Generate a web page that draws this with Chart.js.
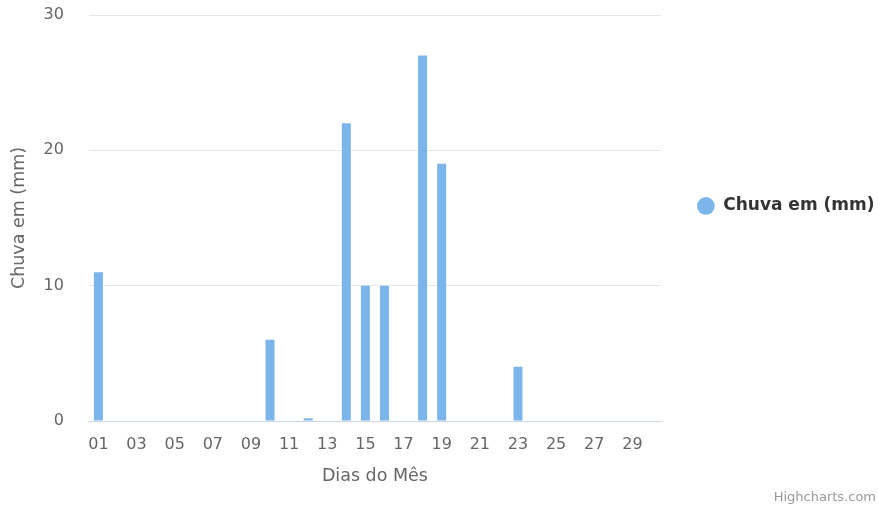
<!DOCTYPE html>
<html>
<head>
<meta charset="utf-8">
<script src="https://cdn.jsdelivr.net/npm/chart.js@4"></script>
<style>
  html, body { margin: 0; padding: 0; background: #fff; }
  #wrap { width: 878px; height: 512px; position: relative; }
</style>
</head>
<body>
<div id="wrap"><canvas id="chuva"></canvas></div>
<script>
// Chuva diária do mês (mm)
const dias = ['01','02','03','04','05','06','07','08','09','10','11','12','13','14','15',
              '16','17','18','19','20','21','22','23','24','25','26','27','28','29','30'];
const chuvaMm = [11, 0, 0, 0, 0, 0, 0, 0, 0, 6, 0, 0.2, 0, 22, 10,
                 10, 0, 27, 19, 0, 0, 0, 4, 0, 0, 0, 0, 0, 0, 0];
const yTicks = [0, 10, 20, 30];

const FONT = '"DejaVu Sans", Verdana, sans-serif';
const NONE = 'rgba(0,0,0,0)';

// rodapé "Highcharts.com"
const credits = {
  id: 'credits',
  afterDraw(chart) {
    const c = chart.ctx;
    c.save();
    c.font = '13px ' + FONT;
    c.fillStyle = '#999999';
    c.textAlign = 'right';
    c.textBaseline = 'middle';
    c.fillText('Highcharts.com', 876, 498);
    c.restore();
  }
};

new Chart(document.getElementById('chuva'), {
  type: 'bar',
  data: {
    labels: dias,
    datasets: [{
      label: 'Chuva em (mm)',
      data: chuvaMm,
      backgroundColor: '#7cb5ec',
      borderWidth: 0,
      inflateAmount: 0,
      barThickness: 9,
    }],
  },
  options: {
    responsive: true,
    maintainAspectRatio: false,
    animation: false,
    layout: { padding: { top: 15, right: 0, bottom: 25.5, left: 8.5 } },
    plugins: {
      legend: {
        position: 'right',
        align: 'start',
        maxWidth: 217,
        // título vazio só para descer o item da legenda
        title: { display: true, text: '', padding: 66 },
        labels: {
          usePointStyle: true,
          pointStyle: 'circle',
          pointStyleWidth: 17.7,
          boxHeight: 12.5,
          padding: 36,
          color: '#333333',
          font: { family: FONT, size: 17, weight: 'bold' },
        },
      },
      tooltip: { enabled: false },
    },
    scales: {
      x: {
        // marcas invisíveis só para afastar os rótulos do eixo
        grid: { drawOnChartArea: false, drawTicks: true, tickLength: 10, tickColor: NONE },
        border: { display: true, color: '#ccd6eb', width: 1 },
        ticks: {
          autoSkip: false,
          maxRotation: 0,
          padding: 4,
          color: '#666666',
          font: { family: FONT, size: 16 },
          callback: (v, i) => (i % 2 === 0 ? dias[i] : ''),
        },
        title: {
          display: true,
          text: 'Dias do Mês',
          color: '#666666',
          font: { family: FONT, size: 17.5 },
          padding: { top: 7.3, bottom: 0 },
        },
      },
      y: {
        min: 0,
        max: 30,
        afterBuildTicks: (scale) => { scale.ticks = yTicks.map((v) => ({ value: v })); },
        grid: { color: '#e6e6e6', drawTicks: true, tickLength: 21, tickColor: NONE },
        border: { display: false },
        ticks: {
          padding: 4,
          color: '#666666',
          font: { family: FONT, size: 16 },
        },
        title: {
          display: true,
          text: 'Chuva em (mm)',
          color: '#666666',
          font: { family: FONT, size: 17.5 },
          padding: { top: 0, bottom: 10 },
        },
      },
    },
  },
  plugins: [credits],
});
</script>
</body>
</html>
